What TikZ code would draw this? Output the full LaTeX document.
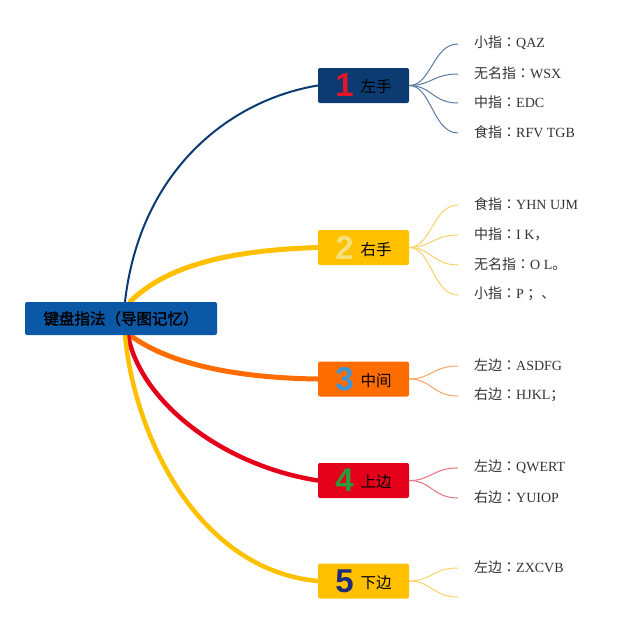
\documentclass[tikz,border=0pt]{standalone}
\usepackage{fontspec}
\setmainfont{Liberation Serif}
\newfontfamily\cjk{Noto Sans CJK SC}
\newfontfamily\cjkc{Noto Sans CJK TC}
\newfontfamily\cjkb[FakeBold=2]{Noto Sans CJK SC}
\newfontfamily\numf{Liberation Sans}
\usetikzlibrary{backgrounds}
\definecolor{rootblue}{HTML}{0B58A6}
\definecolor{navy}{HTML}{0B3B70}
\definecolor{gold}{HTML}{FFC000}
\definecolor{orangeA}{HTML}{FF6C00}
\definecolor{redA}{HTML}{E4001A}
\definecolor{numred}{HTML}{E3152B}
\definecolor{numpale}{HTML}{F6E07A}
\definecolor{numblue}{HTML}{3E95D4}
\definecolor{numgreen}{HTML}{2A9A3A}
\definecolor{numnavy}{HTML}{1E2B78}
\definecolor{leafgray}{HTML}{333333}
\definecolor{twigblue}{HTML}{5A7BA4}
\definecolor{twiggold}{HTML}{F8D36A}
\definecolor{twigorange}{HTML}{F5A463}
\definecolor{twigred}{HTML}{E7737E}
\newcommand\topiclabel[3]{{\numf\bfseries\fontsize{33}{33}\selectfont\color{#1}#2}\hspace{7pt}\raisebox{4pt}{\cjk\fontsize{15.5}{18}\selectfont\color{black}#3}}
\newcommand\lf[2]{{\cjk #1}{\cjkc ：}#2}
\tikzset{
  rootbox/.style={fill=rootblue, rounded corners=2pt, minimum width=192pt, minimum height=33pt, inner sep=0pt, text=black, font=\cjkb\fontsize{15.5}{18}\selectfont},
  topic/.style={rounded corners=2pt, minimum width=91pt, minimum height=35pt, inner sep=0pt},
  leaftext/.style={anchor=west, inner sep=0pt, text=leafgray, font=\fontsize{14}{16}\selectfont},
  mainline/.style={line cap=round},
  twig/.style={line width=1pt},
}
\begin{document}
\begin{tikzpicture}[x=1pt,y=-1pt]
\useasboundingbox (0,0) rectangle (640,625);
\node[rootbox] (root) at (121,318.5) {键盘指法（导图记忆）};
\node[topic, fill=navy] (t1) at (363.5,85.5) {\topiclabel{numred}{1}{左手}};
\node[topic, fill=gold] (t2) at (363.5,247.5) {\topiclabel{numpale}{2}{右手}};
\node[topic, fill=orangeA] (t3) at (363.5,379) {\topiclabel{numblue}{3}{中间}};
\node[topic, fill=redA] (t4) at (363.5,480.5) {\topiclabel{numgreen}{4}{上边}};
\node[topic, fill=gold] (t5) at (363.5,581) {\topiclabel{numnavy}{5}{下边}};
% leaves
\node[leaftext] (l11) at (474,43) {\lf{小指}{QAZ}};
\node[leaftext] (l12) at (474,73) {\lf{无名指}{WSX}};
\node[leaftext] (l13) at (474,102) {\lf{中指}{EDC}};
\node[leaftext] (l14) at (474,132) {\lf{食指}{RFV TGB}};
\node[leaftext] (l21) at (474,204) {\lf{食指}{YHN UJM}};
\node[leaftext] (l22) at (474,234) {\lf{中指}{I K{\cjk ，}}};
\node[leaftext] (l23) at (474,264) {\lf{无名指}{O L{\cjk 。}}};
\node[leaftext] (l24) at (474,294) {\lf{小指}{P {\cjk ；、}}};
\node[leaftext] (l31) at (474,365) {\lf{左边}{ASDFG}};
\node[leaftext] (l32) at (474,395) {\lf{右边}{HJKL{\cjk ；}}};
\node[leaftext] (l41) at (474,467) {\lf{左边}{QWERT}};
\node[leaftext] (l42) at (474,497) {\lf{右边}{YUIOP}};
\node[leaftext] (l51) at (474,567) {\lf{左边}{ZXCVB}};
\coordinate (e52) at (458,597);
\begin{scope}[on background layer]
\draw[mainline, navy, line width=2pt] ([xshift=4pt]root.north) .. controls (140,170) and (230,100) .. (t1.west);
\draw[mainline, gold, line width=5pt] ([xshift=9pt]root.north) .. controls (170,262) and (240,250) .. (t2.west);
\draw[mainline, orangeA, line width=5pt] ([xshift=9pt]root.south) .. controls (170,365) and (240,378) .. (t3.west);
\draw[mainline, redA, line width=4.5pt] ([xshift=7pt]root.south) .. controls (140,400) and (220,465) .. (t4.west);
\draw[mainline, gold, line width=4.5pt] ([xshift=4pt]root.south) .. controls (135,440) and (200,570) .. (t5.west);
\end{scope}
\foreach \l in {l11,l12,l13,l14}
  \draw[twig, twigblue] (t1.east) .. controls +(22,0) and +(-25,0) .. ([xshift=-16pt,yshift=-1pt]\l.west);
\foreach \l in {l21,l22,l23,l24}
  \draw[twig, twiggold] (t2.east) .. controls +(22,0) and +(-25,0) .. ([xshift=-16pt,yshift=-1pt]\l.west);
\foreach \l in {l31,l32}
  \draw[twig, twigorange] (t3.east) .. controls +(22,0) and +(-25,0) .. ([xshift=-16pt,yshift=-1pt]\l.west);
\foreach \l in {l41,l42}
  \draw[twig, twigred] (t4.east) .. controls +(22,0) and +(-25,0) .. ([xshift=-16pt,yshift=-1pt]\l.west);
\draw[twig, twiggold] (t5.east) .. controls +(22,0) and +(-25,0) .. ([xshift=-16pt,yshift=-1pt]l51.west);
\draw[twig, twiggold] (t5.east) .. controls +(22,0) and +(-25,0) .. (e52);
\end{tikzpicture}
\end{document}
